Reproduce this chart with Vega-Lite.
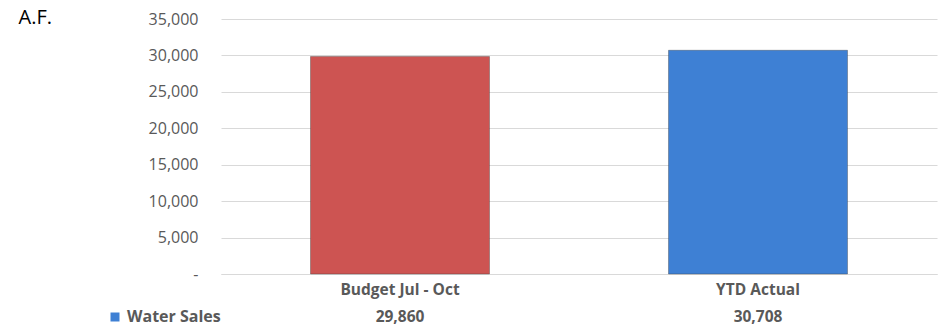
{
  "$schema": "https://vega.github.io/schema/vega-lite/v6.json",
  "width": 716,
  "height": 255,
  "autosize": {"type": "none"},
  "padding": {"left": 221, "top": 19, "right": 5, "bottom": 54},
  "background": "white",
  "config": {"view": {"stroke": null}, "font": "Open Sans"},
  "data": {
    "values": [
      {"category": "Budget Jul - Oct", "series": "Water Sales", "value": 29860},
      {"category": "YTD Actual", "series": "Water Sales", "value": 30708}
    ]
  },
  "encoding": {
    "x": {
      "field": "category",
      "type": "nominal",
      "sort": null,
      "scale": {"paddingInner": 0.5, "paddingOuter": 0.25},
      "axis": {
        "title": null,
        "labelAngle": 0,
        "domain": true,
        "domainColor": "#D9D9D9",
        "ticks": false,
        "tickSize": 0,
        "grid": false,
        "labelPadding": 20,
        "labelBaseline": "alphabetic",
        "labelFontWeight": "bold",
        "labelFontSize": 15.5,
        "labelColor": "#595959"
      }
    }
  },
  "layer": [
    {
      "mark": {"type": "bar", "strokeWidth": 1, "strokeOpacity": 0.35, "stroke": "#333333"},
      "encoding": {
        "y": {
          "field": "value",
          "type": "quantitative",
          "scale": {"domain": [0, 35000], "nice": false},
          "axis": {
            "title": "A.F.",
            "titleAngle": 0,
            "titleAlign": "left",
            "titleBaseline": "alphabetic",
            "titleX": -203,
            "titleY": 4,
            "titleFontSize": 20,
            "titleFontWeight": "normal",
            "titleColor": "#000000",
            "values": [0, 5000, 10000, 15000, 20000, 25000, 30000, 35000],
            "labelExpr": "datum.value === 0 ? '-\u00a0\u00a0\u00a0' : format(datum.value, ',.0f')",
            "grid": true,
            "gridColor": "#D9D9D9",
            "domain": false,
            "ticks": false,
            "labelPadding": 23,
            "labelFontSize": 16,
            "labelColor": "#595959"
          }
        },
        "color": {
          "condition": {"test": "datum.category === 'Budget Jul - Oct'", "value": "#CD5452"},
          "field": "series",
          "type": "nominal",
          "scale": {"range": ["#3E80D4"]},
          "legend": {
            "title": null,
            "orient": "none",
            "legendX": -114,
            "legendY": 290,
            "padding": 0,
            "symbolType": "square",
            "symbolSize": 81,
            "symbolStrokeWidth": 0,
            "labelFontSize": 16,
            "labelFontWeight": "bold",
            "labelColor": "#595959",
            "labelOffset": 4
          }
        }
      }
    },
    {
      "mark": {"type": "text", "baseline": "alphabetic", "dy": 48, "fontWeight": "bold", "fontSize": 15.5, "color": "#595959"},
      "encoding": {
        "y": {
          "datum": 0,
          "type": "quantitative",
          "axis": {
            "title": "A.F.",
            "titleAngle": 0,
            "titleAlign": "left",
            "titleBaseline": "alphabetic",
            "titleX": -203,
            "titleY": 4,
            "titleFontSize": 20,
            "titleFontWeight": "normal",
            "titleColor": "#000000",
            "values": [0, 5000, 10000, 15000, 20000, 25000, 30000, 35000],
            "labelExpr": "datum.value === 0 ? '-\u00a0\u00a0\u00a0' : format(datum.value, ',.0f')",
            "grid": true,
            "gridColor": "#D9D9D9",
            "domain": false,
            "ticks": false,
            "labelPadding": 23,
            "labelFontSize": 16,
            "labelColor": "#595959"
          }
        },
        "text": {"field": "value", "type": "quantitative", "format": ","}
      }
    }
  ]
}
